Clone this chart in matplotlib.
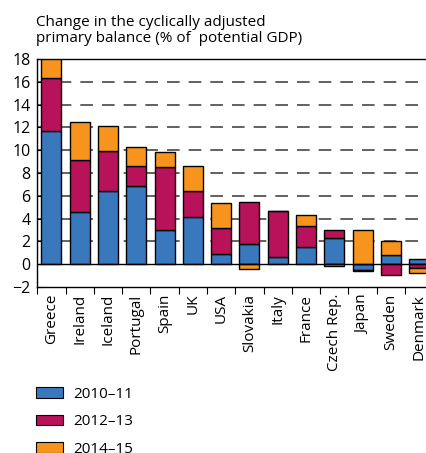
import numpy as np
import matplotlib
matplotlib.use("Agg")
import matplotlib.pyplot as plt
from matplotlib.patches import Patch

# data
countries = ['Greece', 'Ireland', 'Iceland', 'Portugal', 'Spain', 'UK', 'USA',
             'Slovakia', 'Italy', 'France', 'Czech Rep.', 'Japan', 'Sweden', 'Denmark']
y2010_11 = [11.65, 4.60, 6.41, 6.82, 2.99, 4.10, 0.88, 1.79, 0.59, 1.49, 2.28, -0.53, 0.79, 0.50]
y2012_13 = [4.71, 4.53, 3.51, 1.81, 5.56, 2.31, 2.28, 3.65, 4.12, 1.82, 0.73, -0.06, -0.94, -0.32]
y2014_15 = [1.64, 3.34, 2.23, 1.61, 1.28, 2.19, 2.17, -0.44, 0.0, 0.99, -0.20, 3.01, 1.23, -0.47]
series_labels = ['2010\u201311', '2012\u201313', '2014\u201315']
colors = ['#3a78bd', '#b8135a', '#f7941d']

plt.rcParams['font.family'] = ['Open Sans', 'DejaVu Sans']

W, H = 427, 453
fig = plt.figure(figsize=(W / 100, H / 100), dpi=100)
ax = fig.add_axes([37.3 / W, 1 - 287 / H, 396 / W, (287 - 59) / H])

x = np.arange(len(countries))
pos_base = np.zeros(len(countries))
neg_base = np.zeros(len(countries))
for vals, col in zip([y2010_11, y2012_13, y2014_15], colors):
    vals = np.array(vals)
    base = np.where(vals >= 0, pos_base, neg_base)
    ax.bar(x, vals, width=0.71, bottom=base, color=col, edgecolor='black',
           linewidth=1.0, zorder=3)
    pos_base = pos_base + np.where(vals > 0, vals, 0)
    neg_base = neg_base + np.where(vals < 0, vals, 0)

ax.axhline(0, color='black', linewidth=1.0, zorder=4)
for g in range(2, 18, 2):
    ax.axhline(g, color='#555555', linewidth=1.3, dashes=(7, 5), zorder=1)

ax.set_xlim(-0.5, len(countries) - 0.5)
ax.set_ylim(-2, 18)
ax.set_yticks(range(-2, 19, 2))
ax.tick_params(axis='y', direction='in', length=4, width=0.8, pad=5, labelsize=11.5)

ax.set_xticks(x)
ax.set_xticklabels(countries, rotation=90, fontsize=11)
ax.set_xticks(np.arange(-0.5, len(countries), 1), minor=True)
ax.tick_params(axis='x', which='major', length=0, pad=5)
ax.tick_params(axis='x', which='minor', direction='out', length=5, width=0.8)

for s in ax.spines.values():
    s.set_linewidth(1.0)

fig.text(36 / W, 1 - 15 / H,
         'Change in the cyclically adjusted\nprimary balance (% of  potential GDP)',
         ha='left', va='top', fontsize=11, linespacing=1.12)

handles = [Patch(facecolor=c, edgecolor='black', linewidth=0.8) for c in colors]
fig.legend(handles, series_labels, loc='upper left',
           bbox_to_anchor=(30 / W, 1 - 381 / H), frameon=False,
           fontsize=11, handlelength=1.75, handleheight=0.7,
           labelspacing=0.8, handletextpad=0.7, borderaxespad=0)

fig.savefig('out.png', dpi=100)
